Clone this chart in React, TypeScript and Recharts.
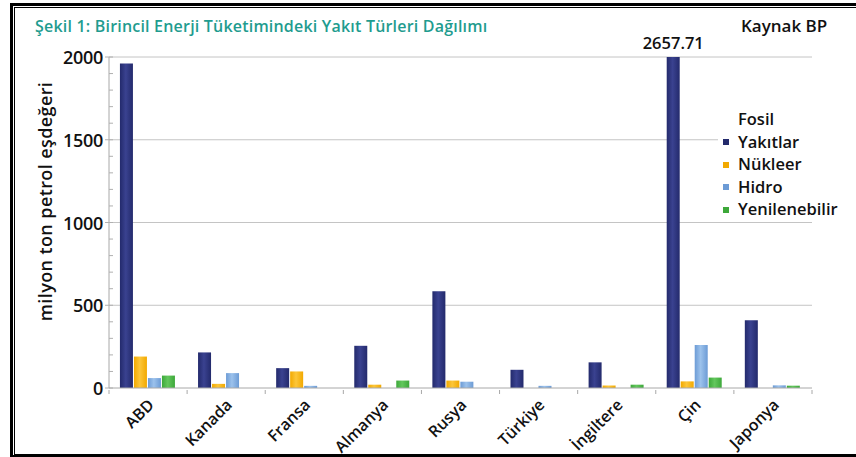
import React from 'react';
import { BarChart, Bar, XAxis, YAxis, CartesianGrid, Legend, LabelList } from 'recharts';

const countries = ['ABD', 'Kanada', 'Fransa', 'Almanya', 'Rusya', 'Türkiye', 'İngiltere', 'Çin', 'Japonya'];
const fosil = [1960, 215, 120, 255, 585, 110, 155, 2657.71, 410];
const nukleer = [190, 25, 100, 20, 45, 0, 15, 40, 0];
const hidro = [60, 90, 13, 0, 38, 13, 0, 260, 16];
const yenilenebilir = [75, 0, 0, 45, 0, 0, 20, 63, 14];
const seriesNames = ['Fosil Yakıtlar', 'Nükleer', 'Hidro', 'Yenilenebilir'];
const seriesKeys = ['fosil', 'nukleer', 'hidro', 'yen'];
const yTicks = [0, 100, 200, 300, 400, 500, 600, 700, 800, 900, 1000, 1100, 1200, 1300, 1400, 1500, 1600, 1700, 1800, 1900, 2000];
const gridValues = [500, 1000, 1500, 2000];
const yMax = 2000;

const colors = ['#232a6c', '#f2a900', '#6c9bd5', '#3da83a'];
const lightColors = ['#3a4290', '#fcc63a', '#9cc2ec', '#63c75d'];

const data = countries.map((c, i) => ({
  name: c,
  fosil: fosil[i],
  nukleer: nukleer[i],
  hidro: hidro[i],
  yen: yenilenebilir[i],
}));

const W = 856;
const H = 457;
const M = { top: 57, right: 44, bottom: 0, left: 0 };
const Y_W = 109;
const X_H = 69;
const FONT = '"Open Sans", "Noto Sans", sans-serif';
const step = (W - Y_W - M.right) / countries.length;

const XTick = (props: any) => {
  const { x, y, payload, index } = props;
  const ax = x + 7;
  const ay = y + 16;
  return (
    <g>
      <line x1={x + step / 2} x2={x + step / 2} y1={y} y2={y + 4} stroke="#a8a8a8" />
      {index === 0 ? <line x1={x - step / 2} x2={x - step / 2} y1={y} y2={y + 4} stroke="#a8a8a8" /> : null}
      <text
        x={ax}
        y={ay}
        transform={`rotate(-45 ${ax} ${ay})`}
        textAnchor="end"
        fontFamily={FONT}
        fontSize={16}
        fontWeight={600}
        fill="#111"
      >
        {payload.value}
      </text>
    </g>
  );
};

const YTick = (props: any) => {
  const { x, y, payload } = props;
  const major = payload.value % 500 === 0;
  return (
    <g>
      <line x1={x + 5} x2={x + 9} y1={y} y2={y} stroke="#b0b0b0" />
      {major ? <line x1={x + 1} x2={x + 5} y1={y} y2={y} stroke="#b0b0b0" /> : null}
      {major ? (
        <text x={x - 1} y={y} textAnchor="end" dominantBaseline="central" fontFamily={FONT} fontSize={18} fontWeight={600} fill="#111" letterSpacing={-0.3}>
          {payload.value}
        </text>
      ) : null}
    </g>
  );
};

const YLabel = (props: any) => {
  const vb = props.viewBox || {};
  const lx = vb.x + 45;
  const ly = vb.y + vb.height / 2 - 21;
  return (
    <text x={lx} y={ly} transform={`rotate(-90 ${lx} ${ly})`} textAnchor="middle" dominantBaseline="central" fontFamily={FONT} fontSize={18} fontWeight={600} fill="#111" letterSpacing={0.4}>
      milyon ton petrol eşdeğeri
    </text>
  );
};

const OverflowLabel = (props: any) => {
  const vb = props.viewBox || props;
  const value = props.value;
  if (value === undefined || Number(value) <= yMax) return null;
  return (
    <text x={vb.x + vb.width / 2} y={M.top - 8} textAnchor="middle" fontFamily={FONT} fontSize={16.5} fontWeight={600} fill="#111">
      {value}
    </text>
  );
};

const renderLegend = () => (
  <div style={{ fontFamily: FONT, fontSize: 16.5, fontWeight: 600, lineHeight: '22.5px', color: '#111' }}>
    {seriesNames.map((n, i) => (
      <div key={n} style={{ display: 'flex' }}>
        <span style={{ background: '#fff', display: 'flex', alignItems: 'flex-end', paddingRight: 3 }}>
          <span style={{ width: 6, height: 6, background: colors[i], margin: '0 9px 8px 5px', flex: 'none' }} />
          <span style={{ maxWidth: 80 }}>{n}</span>
        </span>
      </div>
    ))}
  </div>
);

export default function App() {
  return (
    <div style={{ position: 'absolute', left: 0, top: 0, width: W, height: H, background: '#fff', overflow: 'hidden' }}>
      <svg width={0} height={0} style={{ position: 'absolute' }}>
        <defs>
          {colors.map((c, i) => (
            <linearGradient key={i} id={`grad${i}`} x1="0" y1="0" x2="1" y2="0">
              <stop offset="0%" stopColor={c} />
              <stop offset="45%" stopColor={lightColors[i]} />
              <stop offset="100%" stopColor={c} />
            </linearGradient>
          ))}
        </defs>
      </svg>
      <div style={{ position: 'absolute', left: 10, top: 3, width: 900, height: 454, boxSizing: 'border-box', borderLeft: '3px solid #000', borderTop: '3px solid #000', borderBottom: '2px solid #000' }} />
      <div style={{ position: 'absolute', left: 14, top: 7, width: 900, height: 448, boxSizing: 'border-box', borderLeft: '1px solid #000', borderTop: '1px solid #000', borderBottom: '1px solid #000' }} />
      <div style={{ position: 'absolute', left: 35, top: 15, fontFamily: FONT, fontSize: 16, fontWeight: 600, color: '#1f9c8f', letterSpacing: 0.2, whiteSpace: 'nowrap' }}>
        Şekil 1: Birincil Enerji Tüketimindeki Yakıt Türleri Dağılımı
      </div>
      <div style={{ position: 'absolute', left: 741, top: 14, fontFamily: FONT, fontSize: 17, fontWeight: 600, color: '#111', whiteSpace: 'nowrap' }}>
        Kaynak BP
      </div>
      <div style={{ position: 'absolute', left: 0, top: 0 }}>
        <BarChart width={W} height={H} data={data} margin={M} barCategoryGap="14%" barGap={1}>
          <CartesianGrid horizontal={true} vertical={false} horizontalValues={gridValues} stroke="#c4c4c4" />
          <XAxis dataKey="name" height={X_H} interval={0} tickSize={0} tickLine={false} tick={<XTick />} axisLine={{ stroke: '#a8a8a8' }} />
          <YAxis
            type="number"
            domain={[0, yMax]}
            allowDataOverflow={true}
            ticks={yTicks}
            interval={0}
            width={Y_W}
            tickSize={0}
            tickMargin={5}
            tickLine={false}
            tick={<YTick />}
            axisLine={{ stroke: '#a8a8a8' }}
            label={<YLabel />}
          />
          <YAxis yAxisId="frame" orientation="right" width={0} tick={false} tickLine={false} axisLine={{ stroke: '#c4c4c4' }} />
          <Legend layout="vertical" align="center" verticalAlign="middle" wrapperStyle={{ left: 718, top: 108, width: 138 }} content={renderLegend} />
          {seriesKeys.map((k, i) => (
            <Bar key={k} dataKey={k} name={seriesNames[i]} fill={`url(#grad${i})`} isAnimationActive={false}>
              {i === 0 ? <LabelList dataKey={k} content={<OverflowLabel />} /> : null}
            </Bar>
          ))}
        </BarChart>
      </div>
    </div>
  );
}
